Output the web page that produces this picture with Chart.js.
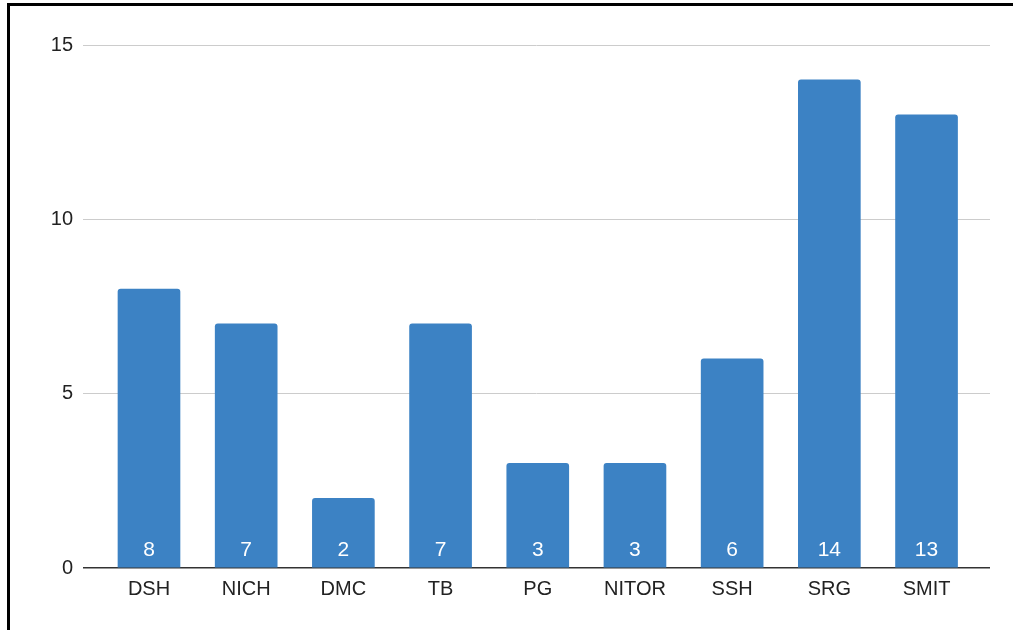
<!DOCTYPE html>
<html>
<head>
<meta charset="utf-8">
<script src="https://cdn.jsdelivr.net/npm/chart.js@4/dist/chart.umd.min.js"></script>
<style>
  html, body { margin: 0; padding: 0; background: #fff; }
  #wrap { position: relative; width: 1013px; height: 630px; }
  #frame { position: absolute; left: 7px; top: 3px; right: 0; bottom: 0;
           border-left: 3px solid #000; border-top: 3px solid #000; pointer-events: none; }
</style>
</head>
<body>
<div id="wrap">
  <canvas id="myChart" width="1013" height="630"></canvas>
  <div id="frame"></div>
</div>
<script>
// categories and values
const categories = ['DSH', 'NICH', 'DMC', 'TB', 'PG', 'NITOR', 'SSH', 'SRG', 'SMIT'];
const counts = [8, 7, 2, 7, 3, 3, 6, 14, 13];
const yTicks = [0, 5, 10, 15];

const barColor = '#3c82c4';
const fontFamily = '"Liberation Sans", Arial, sans-serif';

// white value text near the bottom of each bar
const valueLabels = {
    id: 'valueLabels',
    afterDatasetsDraw(chart) {
        const ctx = chart.ctx;
        const meta = chart.getDatasetMeta(0);
        const bottom = chart.scales.y.getPixelForValue(0);
        ctx.save();
        ctx.fillStyle = '#ffffff';
        ctx.font = '21px ' + fontFamily;
        ctx.textAlign = 'center';
        ctx.textBaseline = 'middle';
        meta.data.forEach((bar, i) => {
            ctx.fillText(String(counts[i]), bar.x, bottom - 18);
        });
        ctx.restore();
    }
};

const ctx = document.getElementById('myChart').getContext('2d');
const chart = new Chart(ctx, {
    type: 'bar',
    data: {
        datasets: [{
            data: counts.map((v, i) => ({ x: i, y: v })),
            backgroundColor: barColor,
            borderRadius: { topLeft: 3, topRight: 3 },
            borderSkipped: 'bottom',
            barThickness: 62
        }]
    },
    plugins: [valueLabels],
    options: {
        responsive: false,
        animation: false,
        layout: { padding: { top: 45, right: 23, left: 0, bottom: 0 } },
        plugins: { legend: { display: false }, tooltip: { enabled: false } },
        scales: {
            x: {
                type: 'linear',
                offset: false,
                min: -0.679,
                max: 8.653,
                afterBuildTicks: (s) => { s.ticks = categories.map((_, i) => ({ value: i })); },
                afterFit: (s) => { s.height = 62; },
                grid: { display: false, drawTicks: false, offset: false },
                border: { display: false },
                ticks: {
                    padding: 9,
                    autoSkip: false,
                    maxRotation: 0,
                    color: '#222',
                    font: { family: fontFamily, size: 20 },
                    callback: (v) => categories[v]
                }
            },
            y: {
                min: 0,
                max: 15,
                afterBuildTicks: (s) => { s.ticks = yTicks.map(v => ({ value: v })); },
                afterFit: (s) => { s.width = 83; },
                grid: {
                    drawTicks: false,
                    color: (c) => c.tick && c.tick.value === 0 ? '#333333' : '#cccccc',
                    lineWidth: (c) => c.tick && c.tick.value === 0 ? 1.5 : 1
                },
                border: { display: false },
                ticks: {
                    padding: 10,
                    color: '#222',
                    font: { family: fontFamily, size: 20 }
                }
            }
        }
    }
});
</script>
</body>
</html>
